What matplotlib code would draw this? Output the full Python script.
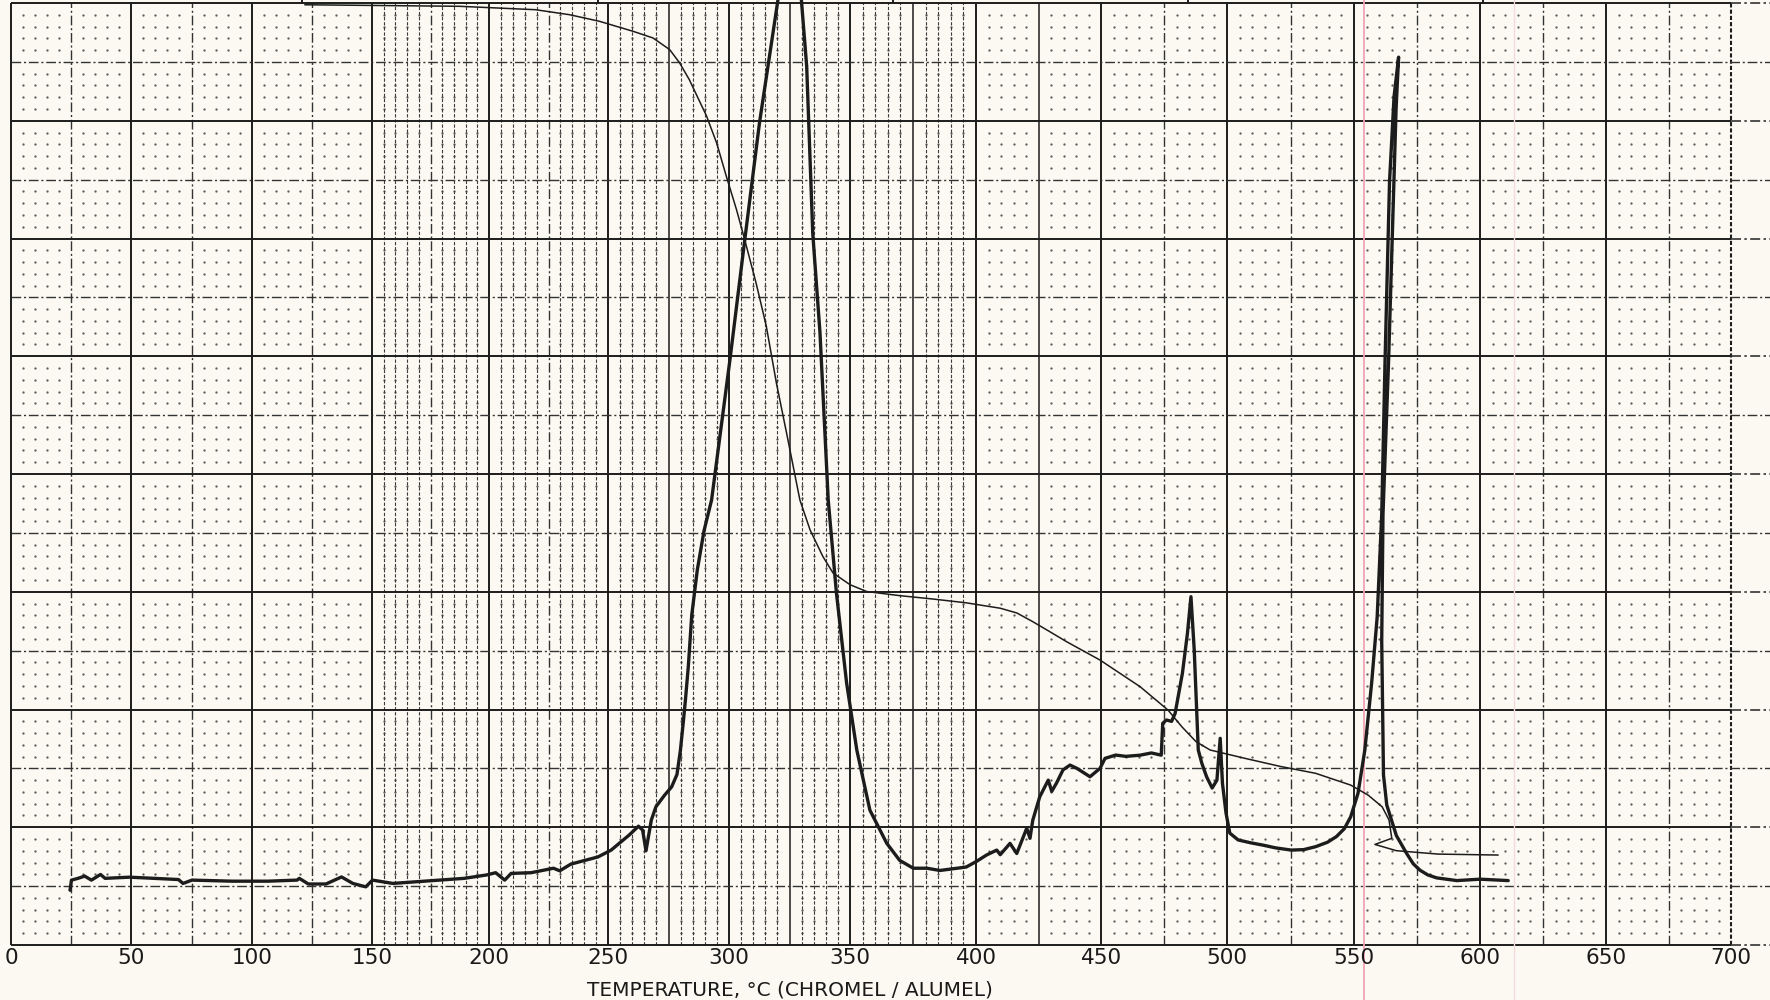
import numpy as np
import matplotlib
matplotlib.use("Agg")
import matplotlib.pyplot as plt

# ---- Data (temperature in degC, signal in chart divisions 0..80) ----
tick_temps = list(range(0, 701, 50))

dta_trace = [
    (24.6, 4.65), (25.2, 5.51), (27.9, 5.66), (30.7, 5.85), (33.5, 5.51), (37.3, 5.99),
    (39.2, 5.66), (49.4, 5.76), (69.6, 5.56), (71.5, 5.23), (75.2, 5.51), (91.9, 5.42),
    (106.6, 5.42), (118.8, 5.51), (119.7, 5.66), (123.5, 5.18), (130.8, 5.18), (137.3, 5.78),
    (142.0, 5.23), (147.4, 4.94), (150.2, 5.51), (158.9, 5.23), (172.3, 5.42), (189.4, 5.66),
    (199.0, 5.95), (202.8, 6.14), (206.6, 5.51), (209.3, 6.08), (217.7, 6.14), (227.1, 6.52),
    (229.7, 6.30), (234.4, 6.87), (245.8, 7.48), (251.3, 8.06), (258.7, 9.33), (262.6, 10.09),
    (264.3, 9.76), (265.7, 8.0), (267.9, 10.61), (269.8, 11.74), (273.4, 12.73), (276.3, 13.43),
    (278.5, 14.48), (279.9, 16.50), (281.1, 18.9), (282.0, 20.82), (283.2, 23.69), (284.6, 28.0),
    (286.9, 31.85), (289.7, 35.2), (292.8, 37.79), (300.5, 49.88), (306.5, 59.86), (312.6, 69.83),
    (320.2, 80.29), (324.8, 83.17), (329.9, 80.29), (332.1, 74.63), (334.6, 60.46), (337.6, 51.99),
    (341.0, 37.79), (344.4, 29.88), (348.6, 22.25), (352.7, 16.56), (357.9, 11.45), (364.6, 8.63),
    (369.7, 7.19), (375.1, 6.52), (380.5, 6.52), (385.7, 6.33), (396.1, 6.62), (400.2, 7.10),
    (404.2, 7.64), (408.3, 8.06), (409.7, 7.67), (413.6, 8.63), (416.3, 7.77), (420.3, 9.92),
    (421.6, 9.06), (422.7, 10.59), (425.5, 12.59), (428.9, 14.0), (430.3, 13.05), (432.2, 13.75),
    (434.8, 14.87), (437.6, 15.28), (440.3, 15.01), (445.6, 14.29), (449.6, 15.0), (451.6, 15.85),
    (455.8, 16.13), (459.9, 16.02), (465.5, 16.12), (470.0, 16.31), (473.9, 16.12), (474.5, 18.83),
    (476.0, 19.11), (478.0, 18.99), (479.4, 19.66), (482.3, 23.07), (484.3, 26.47), (485.7, 29.58),
    (487.0, 25.04), (488.6, 16.56), (490.0, 15.44), (491.9, 14.29), (494.1, 13.33), (496.0, 14.0),
    (497.3, 17.55), (498.2, 13.72), (499.6, 11.22), (501.1, 9.5), (504.4, 8.92), (509.3, 8.68),
    (514.2, 8.48), (519.1, 8.25), (525.3, 8.06), (530.2, 8.1), (534.9, 8.35), (539.6, 8.73),
    (543.1, 9.21), (546.2, 9.88), (548.7, 10.89), (551.6, 12.89), (554.3, 16.56),
    (557.0, 22.25), (559.2, 27.87), (561.0, 36.55), (562.3, 49.43), (564.1, 64.84), (565.9, 72.06),
    (567.7, 75.40), (566.7, 71.03), (563.7, 49.43), (561.5, 36.55), (561.0, 25.8), (561.7, 14.44),
    (563.0, 11.89), (566.8, 9.30), (570.9, 7.77), (573.5, 6.9), (576.2, 6.35), (579.3, 5.95),
    (582.8, 5.70), (590.8, 5.47), (600.0, 5.59), (611.2, 5.47),
]

tg_trace = [
    (122.1, 79.85), (187.4, 79.72), (219.6, 79.43), (234.0, 79.0), (246.5, 78.44), (260.3, 77.6),
    (268.6, 77.03), (275.5, 76.04), (279.6, 74.91), (283.6, 73.49), (290.7, 70.41), (294.9, 68.11),
    (298.9, 65.28), (303.1, 62.45), (306.5, 59.89), (311.2, 56.21), (315.4, 52.57), (319.6, 47.71),
    (323.8, 43.47), (329.3, 37.79), (333.5, 35.25), (338.8, 32.99), (343.0, 31.59), (350.0, 30.6),
    (356.6, 30.02), (369.7, 29.67), (383.0, 29.38), (396.1, 29.06), (409.7, 28.6), (416.3, 28.2),
    (422.7, 27.46), (429.5, 26.61), (436.3, 25.75), (449.6, 24.2), (465.5, 21.94), (476.6, 19.95),
    (482.1, 18.53), (487.7, 17.27), (493.3, 16.56), (507.1, 15.85), (521.1, 15.16), (534.9, 14.58),
    (548.7, 13.58), (555.6, 12.73), (561.2, 11.73), (563.9, 10.61), (565.0, 9.06), (558.3, 8.54),
    (566.8, 8.01), (583.4, 7.72), (607.1, 7.64),
]

# ---- Chart paper layout ----
PAPER = "#fbf9f1"
INK = "#1c1c1c"
GREY = "#333333"
W, H = 1770, 1000
# printed temperature scale of the paper is slightly non-linear (pixels of a 1770 px sheet)
scale_temps = [-50] + tick_temps + [750]
scale_px = [-109, 11, 131, 252, 372, 489, 608, 729, 850, 976, 1101, 1227, 1354, 1480, 1606, 1731, 1856]
bottom_px, div_px = 945.0, 11.775   # paper bottom line and one minor division


def fwd(t):
    return np.interp(t, scale_temps, scale_px)


def inv(p):
    return np.interp(p, scale_px, scale_temps)


fig = plt.figure(figsize=(W / 100, H / 100), dpi=100, facecolor=PAPER)
ax = fig.add_axes([0, 0, 1, 1])
ax.set_xscale("function", functions=(fwd, inv))
ax.set_xlim(inv(0.0), inv(float(W)))
ax.set_ylim((bottom_px - H) / div_px, bottom_px / div_px)
ax.axis("off")
x_right = inv(float(W))

# dot grid
cols = [t for t in range(5, 700, 5) if t % 25]
rows = [u for u in range(1, 80) if u % 5]
tt, uu = np.meshgrid(cols, rows)
ax.scatter(tt.ravel(), uu.ravel(), s=2.8, c="#5e5e5e", linewidths=0, zorder=1)

# dense dashed verticals in the middle band
dense = [t for t in range(150, 401, 5) if t % 25]
ax.vlines(dense, 0, 80, colors="#3c3c3c", linewidth=0.8, linestyles=(0, (3, 1.6)), zorder=1)

# 25 degC lines
for t in range(25, 700, 50):
    if 250 <= t <= 425:
        ax.vlines(t, 0, 80, colors=INK, linewidth=1.1, zorder=1.5)
    else:
        ax.vlines(t, 0, 80, colors=GREY, linewidth=1.0, linestyles=(0, (7, 2, 1.5, 2)), zorder=1.5)

# 50 degC lines
ax.vlines([t for t in range(0, 700, 50)], 0, 80, colors=INK, linewidth=1.4, zorder=1.5)
ax.vlines(700, 0, 80, colors=INK, linewidth=1.5, linestyles=(0, (2, 1)), zorder=1.5)

# horizontal lines
ax.hlines(range(0, 81, 10), 0, 700, colors=INK, linewidth=1.4, zorder=1.5)
ax.hlines(range(0, 81, 10), 700, x_right, colors=GREY, linewidth=1.2,
          linestyles=(0, (6, 2, 1.5, 2)), zorder=1.5)
ax.hlines(range(5, 80, 10), 0, x_right, colors=GREY, linewidth=1.0,
          linestyles=(0, (7, 2, 1.5, 2)), zorder=1.5)

# marks in the strip above the top line
ax.vlines([121, 246, 367, 484.5, 601], 80, 81, colors=INK, linewidth=1.4, zorder=1.5)

# pink ruling lines of the scan
ax.axvline(554, color="#f2a3b5", linewidth=1.3, zorder=2)
ax.axvline(613.5, color="#f5dadf", linewidth=1.0, zorder=2)

# ---- Curves ----
dta_t, dta_u = zip(*dta_trace)
tg_t, tg_u = zip(*tg_trace)
ax.plot(dta_t, dta_u, color=INK, linewidth=2.4, solid_joinstyle="round", solid_capstyle="round", zorder=3)
ax.plot(tg_t, tg_u, color=INK, linewidth=1.1, solid_joinstyle="round", zorder=3)

# ---- Axis text ----
for t in tick_temps:
    ax.text(t, -1.1, str(t), ha="center", va="center", fontsize=15.5, color="#1a1a1a", zorder=4)
ax.text(325, -3.82, "TEMPERATURE, °C (CHROMEL / ALUMEL)", ha="center", va="center",
        fontsize=14.5, color="#1a1a1a", zorder=4)

fig.savefig("out.png", dpi=100, facecolor=PAPER)
